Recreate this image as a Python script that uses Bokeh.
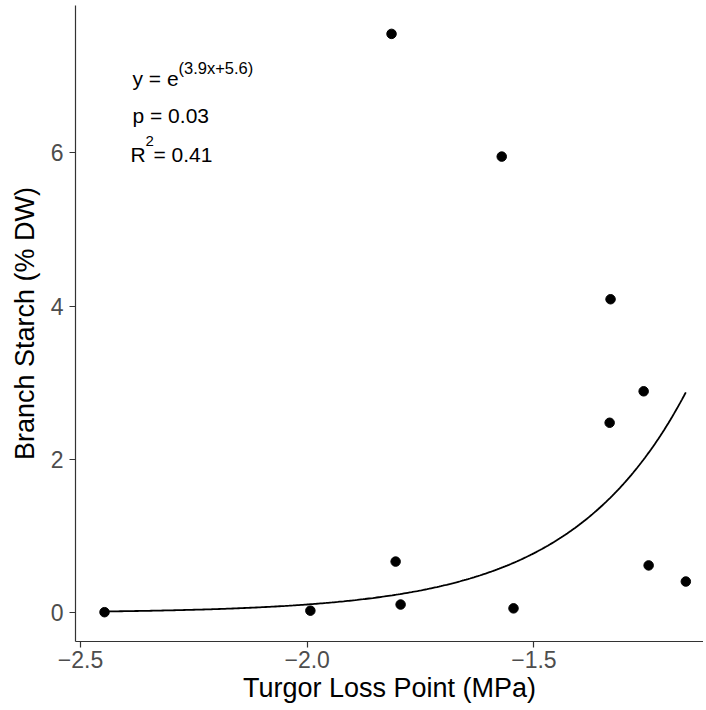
import numpy as np
from bokeh.plotting import figure
from bokeh.models import Label, FixedTicker, CustomJSTickFormatter, ColumnDataSource
from bokeh.embed import file_html
from bokeh.resources import INLINE

# Data
tlp = [-2.447, -1.993, -1.814, -1.805, -1.794, -1.571, -1.545, -1.331, -1.333, -1.258, -1.247, -1.165]
starch = [0.01, 0.03, 7.55, 0.67, 0.11, 5.95, 0.06, 4.09, 2.48, 2.89, 0.62, 0.41]

# Fit coefficients (from the annotation y = e^(3.9x+5.6))
fit_a = 3.9
fit_b = 5.6
p_value = "0.03"
r2_value = "0.41"

x_ticks = [-2.5, -2.0, -1.5]
y_ticks = [0, 2, 4, 6]

FONT = "Liberation Sans"

p = figure(frame_width=628, frame_height=636,
           x_range=(-2.511, -1.126), y_range=(-0.372, 7.92),
           output_backend="svg", toolbar_location=None,
           min_border_left=75, min_border_right=0,
           min_border_top=5, min_border_bottom=66,
           background_fill_color="white", border_fill_color="white")
p.outline_line_color = None
p.grid.visible = False

# fitted curve
xs = np.linspace(min(tlp), max(tlp), 300)
ys = np.exp(fit_a * xs + fit_b)
p.line(xs, ys, line_color="black", line_width=1.8)

src = ColumnDataSource(dict(x=tlp, y=starch))
p.scatter("x", "y", source=src, size=9.5, fill_color="black", line_color="black")

for ax in (p.xaxis[0], p.yaxis[0]):
    ax.axis_line_color = "#333333"
    ax.axis_line_width = 1.2
    ax.major_tick_line_color = "#333333"
    ax.major_tick_line_width = 1.2
    ax.major_tick_in = 0
    ax.major_tick_out = 6
    ax.minor_tick_line_color = None
    ax.major_label_text_font = FONT
    ax.major_label_text_font_size = "23px"
    ax.major_label_text_color = "#4D4D4D"
    ax.axis_label_text_font = FONT
    ax.axis_label_text_font_size = "27px"
    ax.axis_label_text_font_style = "normal"
    ax.axis_label_text_color = "black"
    ax.major_label_standoff = 3

p.xaxis.ticker = FixedTicker(ticks=x_ticks)
p.yaxis.ticker = FixedTicker(ticks=y_ticks)
p.xaxis.formatter = CustomJSTickFormatter(code="return tick.toFixed(1).replace('-', '\u2212');")
p.yaxis.formatter = CustomJSTickFormatter(code="return tick.toFixed(0);")
p.xaxis.axis_label = "Turgor Loss Point (MPa)"
p.yaxis.axis_label = "Branch Starch (% DW)"
p.xaxis.axis_label_standoff = 2
p.yaxis.axis_label_standoff = 8
p.yaxis.major_label_standoff = 6

def lab(text, x, y, size):
    p.add_layout(Label(x=x, y=y, x_units="screen", y_units="screen", text=text,
                       text_font=FONT, text_font_size=size, text_color="black",
                       text_baseline="alphabetic", text_align="left"))

lab("y = e", 57, 563, "21px")
lab("(%.1fx+%.1f)" % (fit_a, fit_b), 103, 574, "16.5px")
lab("p = " + p_value, 57, 526, "21px")
lab("R", 55, 487, "21px")
lab("2", 70, 501, "15px")
lab("= " + r2_value, 78, 487, "21px")

open("out.html", "w").write(file_html(p, INLINE))
